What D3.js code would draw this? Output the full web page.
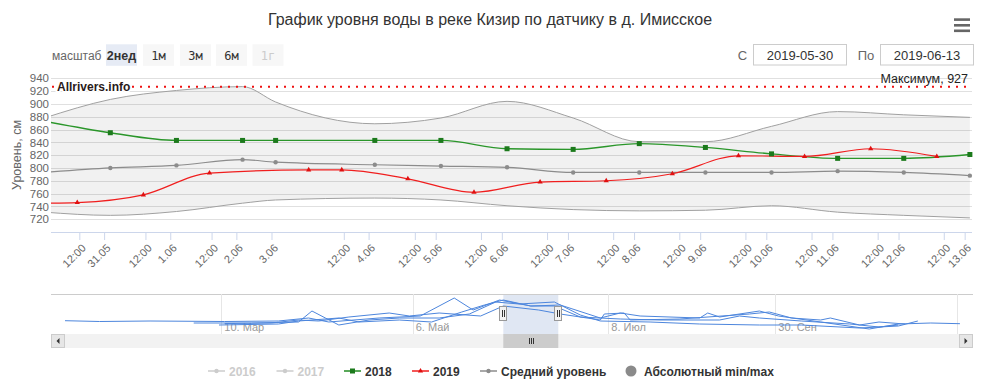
<!DOCTYPE html>
<html>
<head>
<meta charset="utf-8">
<script src="https://cdn.jsdelivr.net/npm/d3@7"></script>
<style>
body { margin: 0; background: #fff; }
svg { display: block; font-family: "Liberation Sans", Arial, sans-serif; }
</style>
</head>
<body>
<svg id="chart" width="1000" height="385"></svg>
<script>
// ordinal slots of the main chart (union of every point time)
const slotTimes = [
  "2019-05-30 03:00", "2019-05-30 11:00", "2019-05-31 03:00", "2019-05-31 11:00",
  "2019-06-01 03:00", "2019-06-01 11:00", "2019-06-02 03:00", "2019-06-03 03:00",
  "2019-06-03 07:00", "2019-06-03 11:00", "2019-06-04 03:00", "2019-06-04 08:00",
  "2019-06-05 03:00", "2019-06-05 08:00", "2019-06-06 03:00", "2019-06-06 08:00",
  "2019-06-07 03:00", "2019-06-07 08:00", "2019-06-08 03:00", "2019-06-08 08:00",
  "2019-06-09 03:00", "2019-06-09 08:00", "2019-06-10 03:00", "2019-06-10 08:00",
  "2019-06-11 03:00", "2019-06-11 08:00", "2019-06-12 03:00", "2019-06-12 08:00",
  "2019-06-13 03:00"
];

// daily series (2018, average, min/max) share these times
const dailyTimes = [
  "2019-05-30 03:00", "2019-05-31 03:00", "2019-06-01 03:00", "2019-06-02 03:00",
  "2019-06-03 03:00", "2019-06-04 03:00", "2019-06-05 03:00", "2019-06-06 03:00",
  "2019-06-07 03:00", "2019-06-08 03:00", "2019-06-09 03:00", "2019-06-10 03:00",
  "2019-06-11 03:00", "2019-06-12 03:00", "2019-06-13 03:00"
];
const values2018 = [873, 855, 843, 843, 843, 843, 843, 830, 829, 838, 832, 822, 815, 815, 821];
const valuesAvg  = [793, 800, 804, 813, 809, 805, 803, 801, 793, 793, 793, 793, 795, 793, 788];
const valuesMax  = [878, 907, 921, 927, 903, 869, 878, 904, 878, 841, 841, 865, 888, 883, 879];
const valuesMin  = [731, 726, 732, 745, 750, 753, 750, 741, 735, 733, 734, 741, 731, 726, 722];

const times2019 = [
  "2019-05-30 03:00", "2019-05-30 11:00", "2019-05-31 11:00", "2019-06-01 11:00",
  "2019-06-03 07:00", "2019-06-03 11:00", "2019-06-04 08:00", "2019-06-05 08:00",
  "2019-06-06 08:00", "2019-06-07 08:00", "2019-06-08 08:00", "2019-06-09 08:00",
  "2019-06-10 08:00", "2019-06-11 08:00", "2019-06-12 08:00"
];
const values2019 = [745, 746, 758, 792, 797, 797, 783, 762, 778, 780, 791, 819, 818, 830, 818];
const markers2019From = 1; // the first 2019 point lies left of the plot

const absMax = 927;

const xTickTimes = [
  "2019-05-30 12:00", "2019-05-31 00:00", "2019-05-31 12:00", "2019-06-01 00:00",
  "2019-06-01 12:00", "2019-06-02 00:00", "2019-06-03 00:00", "2019-06-03 12:00",
  "2019-06-04 00:00", "2019-06-04 12:00", "2019-06-05 00:00", "2019-06-05 12:00",
  "2019-06-06 00:00", "2019-06-06 12:00", "2019-06-07 00:00", "2019-06-07 12:00",
  "2019-06-08 00:00", "2019-06-08 12:00", "2019-06-09 00:00", "2019-06-09 12:00",
  "2019-06-10 00:00", "2019-06-10 12:00", "2019-06-11 00:00", "2019-06-11 12:00",
  "2019-06-12 00:00", "2019-06-12 12:00", "2019-06-13 00:00"
];
const yTicks = [720, 740, 760, 780, 800, 820, 840, 860, 880, 900, 920, 940];

// navigator (day of year, cm)
const navAnchorDays = [1, 69, 126, 150, 164, 189, 273, 329];
const navTickDays = [69, 126, 189, 273, 329];
const navTickLabels = ["10. Мар", "6. Май", "8. Июл", "30. Сен", ""];
const navSelDays = [150, 164];

const navADays = [1, 16, 38, 70, 86, 95, 101, 116, 128, 137, 142, 149, 157, 165, 185, 195, 205, 235, 239, 245, 265, 274, 287, 302, 311, 321, 330];
const navAVals = [733, 725, 730, 725, 730, 760, 720, 760, 780, 960, 840, 940, 880, 890, 760, 810, 780, 760, 810, 770, 830, 780, 720, 650, 700, 710, 703];
const navBDays = [57, 78, 92, 96, 100, 104, 113, 122, 133, 141, 148, 154, 163, 175, 185, 210, 235, 265, 281, 299, 311, 317];
const navBVals = [710, 710, 720, 830, 760, 690, 740, 760, 760, 800, 920, 900, 920, 790, 730, 720, 700, 690, 690, 660, 680, 730];
const navCDays = [70, 84, 92, 98, 107, 119, 125, 133, 144, 150, 159, 165, 185, 187, 197, 200, 225, 260, 270, 278, 287, 290, 299, 305, 313];
const navCVals = [705, 710, 740, 730, 770, 810, 780, 810, 780, 880, 840, 800, 740, 800, 810, 740, 750, 800, 820, 760, 740, 760, 690, 720, 700];
const navDDays = [68, 86, 92, 104, 110, 122, 131, 139, 145, 150, 157, 163, 175, 195, 215, 245, 255, 265, 281, 296, 305, 311];
const navDVals = [690, 700, 730, 760, 720, 740, 720, 820, 890, 940, 880, 880, 770, 750, 740, 740, 780, 760, 730, 700, 670, 690];

const legendItems = [
  { name: "2016", color: "#cccccc", symbol: "circle", hidden: true },
  { name: "2017", color: "#cccccc", symbol: "circle", hidden: true },
  { name: "2018", color: "#228b22", symbol: "square", hidden: false },
  { name: "2019", color: "#f01e1e", symbol: "triangle", hidden: false },
  { name: "Средний уровень", color: "#8c8c8c", symbol: "circle", hidden: false },
  { name: "Абсолютный min/max", color: "#8a8a8a", symbol: "bubble", hidden: false }
];

const parse = d3.timeParse("%Y-%m-%d %H:%M");
const svg = d3.select("#chart");

// plot frame
const plotLeft = 51, plotRight = 972, plotTop = 78.3, plotBottom = 232;
const slotStart = 44.2, slotStep = 33.06;

const slotDates = slotTimes.map(parse);
const x = d3.scaleTime()
  .domain(slotDates)
  .range(slotDates.map((d, i) => slotStart + i * slotStep));
const y = d3.scaleLinear().domain([700, 940]).range([plotBottom, plotTop]);

// title and controls
svg.append("text")
  .attr("x", 490).attr("y", 25)
  .attr("text-anchor", "middle")
  .attr("font-size", 16).attr("fill", "#333")
  .text("График уровня воды в реке Кизир по датчику в д. Имисское");

const menu = svg.append("g").attr("fill", "#666");
[18.3, 24, 29.5].forEach(yy => menu.append("rect")
  .attr("x", 954).attr("y", yy).attr("width", 16).attr("height", 2.6));

svg.append("text").attr("x", 52).attr("y", 59.5)
  .attr("font-size", 12).attr("fill", "#666").text("масштаб");

const zoomButtons = [
  { label: "2нед", x: 106, state: "active" },
  { label: "1м", x: 143, state: "normal" },
  { label: "3м", x: 180, state: "normal" },
  { label: "6м", x: 216, state: "normal" },
  { label: "1г", x: 252.5, state: "disabled" }
];
const btn = svg.append("g").selectAll("g").data(zoomButtons).join("g")
  .attr("transform", d => `translate(${d.x},44.3)`);
btn.append("rect").attr("width", 31).attr("height", 21.5)
  .attr("fill", d => d.state === "active" ? "#e6ebf5" : "#f7f7f7");
btn.append("text").attr("x", 15.5).attr("y", 15.5)
  .attr("text-anchor", "middle")
  .attr("font-size", d => d.state === "active" ? 12.5 : 12)
  .attr("font-weight", d => d.state === "active" ? "bold" : "normal")
  .attr("font-family", d => d.state === "active" ? null : "'DejaVu Sans Mono', monospace")
  .attr("fill", d => d.state === "disabled" ? "#cccccc" : "#333")
  .text(d => d.label);

const dateBoxes = [
  { caption: "С", cx: 742.5, bx: 753.5, value: "2019-05-30" },
  { caption: "По", cx: 866, bx: 880.5, value: "2019-06-13" }
];
const db = svg.append("g").selectAll("g").data(dateBoxes).join("g");
db.append("text").attr("x", d => d.cx).attr("y", 59.5)
  .attr("text-anchor", "middle").attr("font-size", 13).attr("fill", "#666")
  .text(d => d.caption);
db.append("rect").attr("x", d => d.bx).attr("y", 44.5)
  .attr("width", 93).attr("height", 20.5)
  .attr("fill", "#fff").attr("stroke", "#cccccc");
db.append("text").attr("x", d => d.bx + 46.5).attr("y", 59.5)
  .attr("text-anchor", "middle").attr("font-size", 13).attr("fill", "#333")
  .text(d => d.value);

// grid
svg.append("g").selectAll("line").data(yTicks).join("line")
  .attr("x1", plotLeft).attr("x2", plotRight)
  .attr("y1", d => Math.round(y(d)) + 0.5).attr("y2", d => Math.round(y(d)) + 0.5)
  .attr("stroke", "#e0e0e0");

svg.append("defs").append("clipPath").attr("id", "plot-clip")
  .append("rect").attr("x", plotLeft).attr("y", plotTop - 10)
  .attr("width", plotRight - plotLeft + 4).attr("height", plotBottom - plotTop + 10);

const plot = svg.append("g").attr("clip-path", "url(#plot-clip)");
const daily = dailyTimes.map((t, i) => ({
  date: parse(t), v2018: values2018[i], avg: valuesAvg[i], max: valuesMax[i], min: valuesMin[i]
}));
const series2019 = times2019.map((t, i) => ({ date: parse(t), v: values2019[i] }));

const band = d3.area().curve(d3.curveMonotoneX)
  .x(d => x(d.date)).y0(d => y(d.min)).y1(d => y(d.max));
plot.append("path").datum(daily).attr("d", band)
  .attr("fill", "#000").attr("fill-opacity", 0.055);

const lineOf = key => d3.line().curve(d3.curveMonotoneX)
  .x(d => x(d.date)).y(d => y(d[key]));
["max", "min"].forEach(k => plot.append("path").datum(daily).attr("d", lineOf(k))
  .attr("fill", "none").attr("stroke", "#a0a0a0").attr("stroke-width", 1));
plot.append("path").datum(daily).attr("d", lineOf("avg"))
  .attr("fill", "none").attr("stroke", "#8c8c8c").attr("stroke-width", 1.2);
plot.append("path").datum(daily).attr("d", lineOf("v2018"))
  .attr("fill", "none").attr("stroke", "#2a962a").attr("stroke-width", 1.3);
plot.append("path").datum(series2019).attr("d", lineOf("v"))
  .attr("fill", "none").attr("stroke", "#f01e1e").attr("stroke-width", 1.2);

// markers
const inPlot = d => x(d.date) >= plotLeft;
plot.append("g").selectAll("circle").data(daily.filter(inPlot)).join("circle")
  .attr("cx", d => x(d.date)).attr("cy", d => y(d.avg)).attr("r", 2.2)
  .attr("fill", "#8c8c8c");
plot.append("g").selectAll("rect").data(daily.filter(inPlot)).join("rect")
  .attr("x", d => x(d.date) - 2.5).attr("y", d => y(d.v2018) - 2.5)
  .attr("width", 5).attr("height", 5).attr("fill", "#1c7a1c");
plot.append("g").selectAll("path").data(series2019.slice(markers2019From)).join("path")
  .attr("transform", d => `translate(${x(d.date)},${y(d.v)})`)
  .attr("d", d3.symbol(d3.symbolTriangle, 12))
  .attr("fill", "#e01010");

// absolute maximum
svg.append("line")
  .attr("x1", plotLeft + 1).attr("x2", plotRight)
  .attr("y1", y(absMax)).attr("y2", y(absMax))
  .attr("stroke", "#ee1111").attr("stroke-width", 2)
  .attr("stroke-dasharray", "2,6");
svg.append("text").attr("x", 968).attr("y", 82.5)
  .attr("text-anchor", "end").attr("font-size", 12.5).attr("fill", "#222")
  .text(`Максимум, ${absMax}`);
svg.append("text").attr("x", 57).attr("y", 90.5)
  .attr("font-size", 12).attr("font-weight", "bold").attr("fill", "#2a1a1a")
  .attr("stroke", "#fff").attr("stroke-width", 3).attr("paint-order", "stroke")
  .text("Allrivers.info");

// axes
const yAxis = svg.append("g").attr("transform", `translate(${plotLeft},0)`)
  .call(d3.axisLeft(y).tickValues(yTicks).tickSize(0).tickPadding(2));
yAxis.select(".domain").remove();
yAxis.selectAll("text").attr("font-size", 11.5).attr("fill", "#666")
  .attr("font-family", "'Liberation Sans', Arial, sans-serif");

svg.append("text")
  .attr("transform", "translate(21,155) rotate(-90)")
  .attr("text-anchor", "middle").attr("font-size", 12.5).attr("fill", "#666")
  .text("Уровень, см");

const fmtDay = d3.timeFormat("%-d.%m"), fmtHour = d3.timeFormat("%H:%M");
const xAxis = svg.append("g").attr("transform", `translate(0,${plotBottom})`)
  .call(d3.axisBottom(x).tickValues(xTickTimes.map(parse)).tickSize(8).tickSizeOuter(0)
    .tickFormat(d => d.getHours() === 0 ? fmtDay(d) : fmtHour(d)));
xAxis.select(".domain").attr("stroke", "#ccd6eb")
  .attr("d", `M${plotLeft},0.5H${plotRight}`);
xAxis.selectAll(".tick line").attr("stroke", "#ccd6eb");
xAxis.selectAll("text")
  .attr("font-size", 11).attr("fill", "#666")
  .attr("font-family", "'Liberation Sans', Arial, sans-serif")
  .attr("text-anchor", "end")
  .attr("x", 0).attr("y", 0).attr("dy", "0.35em")
  .attr("transform", "translate(4,14) rotate(-45)");

// navigator
const navTop = 294, navBottom = 334;
const nx = d3.scaleLinear().domain(navAnchorDays)
  .range([65, 221.3, 412.7, 503.3, 558.3, 608.3, 775.3, 956.7]);
const ny = d3.scaleLinear().domain([600, 1000]).range([navBottom, navTop]);
const nav = svg.append("g");
nav.append("line").attr("x1", plotLeft).attr("x2", plotRight + 1)
  .attr("y1", navTop + 0.5).attr("y2", navTop + 0.5).attr("stroke", "#cccccc");
nav.append("g").selectAll("line").data(navTickDays).join("line")
  .attr("x1", d => Math.round(nx(d)) + 0.5).attr("x2", d => Math.round(nx(d)) + 0.5)
  .attr("y1", navTop).attr("y2", navBottom).attr("stroke", "#e6e6e6");
nav.append("rect")
  .attr("x", nx(navSelDays[0])).attr("y", navTop + 1)
  .attr("width", nx(navSelDays[1]) - nx(navSelDays[0])).attr("height", navBottom - navTop - 1)
  .attr("fill", "rgba(102,133,194,0.2)");
nav.append("g").selectAll("text").data(navTickDays).join("text")
  .attr("x", d => nx(d) + 3).attr("y", 330.5)
  .attr("font-size", 11).attr("fill", "#999")
  .text((d, i) => navTickLabels[i]);
const navLine = d3.line().x(d => nx(d[0])).y(d => ny(d[1]));
[[navADays, navAVals], [navBDays, navBVals], [navCDays, navCVals], [navDDays, navDVals]]
  .forEach(([days, vals]) => nav.append("path")
    .datum(days.map((d, i) => [d, vals[i]]))
    .attr("d", navLine).attr("fill", "none")
    .attr("stroke", "#4d86dd").attr("stroke-width", 1));

// navigator handles
navSelDays.forEach(d => {
  const hx = Math.round(nx(d));
  const h = nav.append("g").attr("transform", `translate(${hx},0)`);
  h.append("rect").attr("x", -3.5).attr("y", 306.5).attr("width", 7).attr("height", 14)
    .attr("fill", "#f2f2f2").attr("stroke", "#999");
  [-1, 1].forEach(o => h.append("line").attr("x1", o + 0.5).attr("x2", o + 0.5)
    .attr("y1", 310).attr("y2", 317).attr("stroke", "#333"));
});

// scrollbar
const sb = svg.append("g");
sb.append("rect").attr("x", plotLeft).attr("y", 334).attr("width", plotRight + 1 - plotLeft)
  .attr("height", 14).attr("fill", "#f2f2f2");
sb.append("rect").attr("x", nx(navSelDays[0])).attr("y", 334)
  .attr("width", nx(navSelDays[1]) - nx(navSelDays[0])).attr("height", 14)
  .attr("fill", "#cccccc");
const gripX = (nx(navSelDays[0]) + nx(navSelDays[1])) / 2;
[-2, 0, 2].forEach(o => sb.append("line")
  .attr("x1", Math.round(gripX) + o + 0.5).attr("x2", Math.round(gripX) + o + 0.5)
  .attr("y1", 338).attr("y2", 344).attr("stroke", "#333"));
[{ x: plotLeft, dir: -1 }, { x: plotRight + 1 - 14, dir: 1 }].forEach(b => {
  sb.append("rect").attr("x", b.x + 0.5).attr("y", 334.5).attr("width", 13).attr("height", 13)
    .attr("fill", "#e6e6e6").attr("stroke", "#cccccc");
  const cx = b.x + 7, cy = 341;
  sb.append("path")
    .attr("d", b.dir < 0
      ? `M${cx + 1.5},${cy - 3}L${cx - 1.5},${cy}L${cx + 1.5},${cy + 3}Z`
      : `M${cx - 1.5},${cy - 3}L${cx + 1.5},${cy}L${cx - 1.5},${cy + 3}Z`)
    .attr("fill", "#333");
});

// legend
const legendX = [208, 276.5, 344, 412, 480, 625];
const lg = svg.append("g").selectAll("g").data(legendItems).join("g")
  .attr("transform", (d, i) => `translate(${legendX[i]},371)`);
lg.filter(d => d.symbol !== "bubble").append("line")
  .attr("x1", 0).attr("x2", 17).attr("stroke", d => d.color).attr("stroke-width", 1.5);
lg.filter(d => d.symbol === "square").append("rect")
  .attr("x", 6).attr("y", -2.5).attr("width", 5).attr("height", 5).attr("fill", "#1c7a1c");
lg.filter(d => d.symbol === "triangle").append("path")
  .attr("transform", "translate(8.5,0)").attr("d", d3.symbol(d3.symbolTriangle, 12))
  .attr("fill", "#e01010");
lg.filter(d => d.symbol === "circle").append("circle")
  .attr("cx", 8.5).attr("r", 2.2).attr("fill", d => d.color);
lg.filter(d => d.symbol === "bubble").append("circle")
  .attr("cx", 6).attr("r", 5.5).attr("fill", d => d.color);
lg.append("text")
  .attr("x", d => d.symbol === "bubble" ? 19 : 21).attr("y", 4.5)
  .attr("font-size", 12).attr("font-weight", "bold")
  .attr("fill", d => d.hidden ? "#cccccc" : "#333")
  .text(d => d.name);
</script>
</body>
</html>
